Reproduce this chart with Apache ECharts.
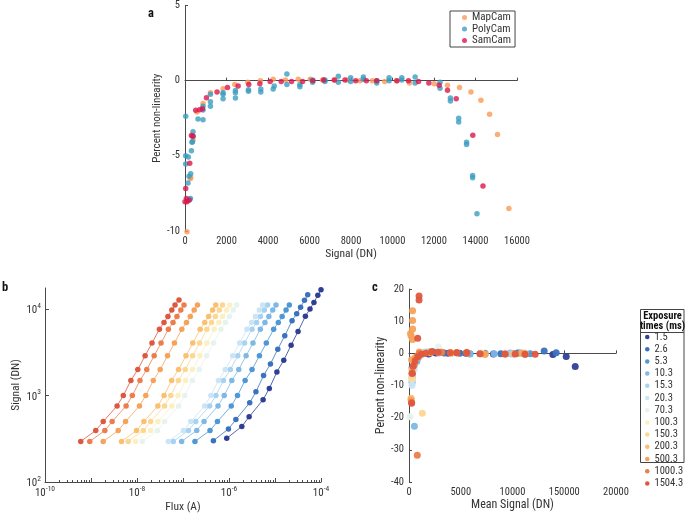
<!DOCTYPE html>
<html><head><meta charset="utf-8">
<script src="https://cdn.jsdelivr.net/npm/echarts@6/dist/echarts.min.js"></script>
<style>html,body{margin:0;padding:0;background:#fff}#c{width:685px;height:514px}</style>
</head><body><div id="c"></div>
<script>
// ---------- Panel a: percent non-linearity vs signal (DN) ----------
const mapCam = [[97,-10.05],[258,-6.5],[275,-6.44],[386,-3.95],[579,-2.08],[869,-1.52],[1226,-0.8],[1835,-0.53],[2400,-0.26],[3026,-0.1],[3638,0],[4250,0.1],[4845,0.05],[5457,0.1],[6036,0.1],[6632,0.05],[7228,0.05],[7823,0.05],[8435,0],[9031,0],[9626,-0.05],[10222,0],[10817,-0.15],[12008,-0.2],[12650,-0.31],[13230,-0.46],[13780,-0.75],[14260,-1.3],[14680,-2.23],[15060,-3.58],[15610,-8.5]];
const polyCam = [[34,-2.37],[34,-5.0],[34,-5.55],[145,-6.8],[164,-5.07],[193,-6.35],[225,-7.9],[261,-7.83],[275,-6.2],[309,-4.67],[340,-4.1],[357,-4.07],[386,-3.4],[386,-3.7],[628,-2.55],[869,-2.6],[869,-1.95],[869,-1.7],[1226,-1.7],[1226,-1.4],[1226,-0.9],[1835,-1.2],[1835,-0.9],[1835,-0.8],[2430,-1.15],[2430,-0.8],[2430,-0.65],[3058,-0.7],[3058,-0.6],[3654,-0.75],[3654,-0.55],[4250,-0.55],[4300,-0.35],[4910,0.45],[4910,-0.25],[5537,-0.4],[5537,-0.25],[6149,-0.1],[6149,0.05],[6745,-0.05],[6745,0.05],[7389,0.3],[7389,-0.1],[7985,0.2],[7985,-0.05],[8596,0.25],[8596,0.1],[9240,-0.15],[9240,0],[9835,0.2],[9835,0],[10447,0.2],[10447,0.05],[11090,0.25],[11090,-0.15],[12290,-0.1],[12290,-0.5],[12790,-1.35],[12790,-1.15],[13190,-2.75],[13190,-2.5],[13570,-4.25],[13570,-4.1],[13860,-6.45],[13860,-6.3],[14070,-8.85]];
const samCam = [[0,-8.05],[34,-7.17],[68,-7.83],[97,-8.05],[193,-7.95],[227,-5.5],[309,-3.65],[386,-3.7],[517,-1.97],[710,-1.93],[840,-1.86],[1033,-1.13],[1545,-0.75],[2047,-0.46],[2560,-0.35],[3074,-0.25],[3606,-0.2],[4105,-0.05],[4636,-0.05],[5135,-0.05],[5666,-0.05],[6165,0],[6680,0.05],[7195,0.05],[7710,0.05],[8226,0],[8741,0],[9240,0],[10206,0],[10769,0],[11252,-0.05],[11751,-0.15],[12250,-0.3],[12650,-0.64],[13070,-1.2],[13870,-3.63],[14360,-7.0]];
const cameraNames = ['MapCam','PolyCam','SamCam'];
const aXTicks = [0,2000,4000,6000,8000,10000,12000,14000,16000];
const aYTicks = [-10,-5,0,5];

// ---------- Panel b: signal (DN) vs flux (A), one curve per exposure ----------
const exposures = ['1.5','2.6','5.3','10.3','15.3','20.3','70.3','100.3','150.3','200.3','500.3','1000.3','1504.3'];
const signalLevels = [295,395,500,760,1000,1500,2000,2890,4050,5870,7010,8230,9820,11200,12800];
const signal_2_6 = [301,411,528,826,1107,1706,2323,3443,4932,7345,8872,10520,12700,14660];
const signal_1_5 = [320,440,568,897,1208,1879,2570,3837,5534,8299,10070,11970,14520,16750];
const flux_1504_3 = [5.98e-10,1.27e-9,1.84e-9,3.69e-9,5.04e-9,7.36e-9,1.04e-8,1.50e-8,2.12e-8,3.07e-8,3.86e-8,4.70e-8,5.71e-8,6.71e-8,8.18e-8];
const flux_1000_3 = [9.40e-10,2.00e-9,2.88e-9,5.79e-9,7.91e-9,1.16e-8,1.63e-8,2.36e-8,3.33e-8,4.82e-8,6.07e-8,7.38e-8,8.97e-8,1.05e-7];
const flux_500_3 = [1.84e-9,3.90e-9,5.64e-9,1.13e-8,1.55e-8,2.26e-8,3.19e-8,4.61e-8,6.52e-8,9.42e-8,1.19e-7,1.44e-7,1.75e-7,2.06e-7];
const flux_200_3 = [4.60e-9,9.77e-9,1.41e-8,2.84e-8,3.87e-8,5.66e-8,8.00e-8,1.16e-7,1.63e-7,2.36e-7,2.97e-7,3.61e-7,4.40e-7,5.16e-7];
const flux_150_3 = [6.44e-9,1.37e-8,1.98e-8,3.97e-8,5.42e-8,7.93e-8,1.12e-7,1.62e-7,2.29e-7,3.30e-7,4.16e-7,5.06e-7,6.15e-7,7.23e-7];
const flux_100_3 = [9.29e-9,1.97e-8,2.85e-8,5.73e-8,7.82e-8,1.14e-7,1.61e-7,2.33e-7,3.30e-7,4.76e-7,6.00e-7,7.29e-7,8.87e-7,1.04e-6];
const flux_70_3 = [1.30e-8,2.76e-8,3.99e-8,8.02e-8,1.09e-7,1.60e-7,2.26e-7,3.27e-7,4.61e-7,6.67e-7,8.39e-7,1.02e-6,1.24e-6,1.46e-6];
const flux_20_3 = [4.79e-8,1.02e-7,1.47e-7,2.95e-7,4.03e-7,5.89e-7,8.32e-7,1.20e-6,1.70e-6,2.45e-6,3.09e-6,3.76e-6,4.57e-6,5.37e-6];
const flux_15_3 = [6.15e-8,1.31e-7,1.89e-7,3.79e-7,5.18e-7,7.57e-7,1.07e-6,1.55e-6,2.18e-6,3.16e-6,3.97e-6,4.83e-6,5.87e-6,6.90e-6];
const flux_10_3 = [9.35e-8,1.99e-7,2.87e-7,5.77e-7,7.87e-7,1.15e-6,1.63e-6,2.35e-6,3.32e-6,4.80e-6,6.04e-6,7.35e-6,8.93e-6,1.05e-5];
const flux_5_3 = [1.82e-7,3.87e-7,5.60e-7,1.12e-6,1.53e-6,2.24e-6,3.17e-6,4.58e-6,6.47e-6,9.35e-6,1.18e-5,1.43e-5,1.74e-5,2.05e-5];
const flux_2_6 = [4.58e-7,9.72e-7,1.41e-6,2.82e-6,3.85e-6,5.64e-6,7.96e-6,1.15e-5,1.63e-5,2.35e-5,2.96e-5,3.60e-5,4.38e-5,5.14e-5];
const flux_1_5 = [8.93e-7,1.90e-6,2.74e-6,5.51e-6,7.52e-6,1.10e-5,1.55e-5,2.24e-5,3.17e-5,4.58e-5,5.77e-5,7.02e-5,8.53e-5,1.00e-4];
const bXTickLabels = [1e-10,1e-8,1e-6,1e-4];
const bYTickLabels = [1e2,1e3,1e4];

// ---------- Panel c: percent non-linearity vs mean signal (DN) ----------
const c_1_5 = [[320,-6.5],[900,-1.2],[1900,-0.2],[2600,0.1],[3800,0],[5500,0],[8160,-0.2],[10070,-0.1],[13900,-0.4],[15190,-1.0],[16060,-4.1]];
const c_2_6 = [[300,-4.5],[820,-1],[1700,0.3],[2300,0.5],[3400,0.1],[4900,0],[6870,-0.1],[8870,-0.1],[10520,0.1],[13060,0.7],[14220,0.2]];
const c_5_3 = [[300,-7.5],[760,-2],[1500,0],[2000,0.4],[2900,0.2],[4050,0],[5900,-0.1],[7350,0],[9820,-0.1],[10740,0.1],[11710,-0.1]];
const c_10_3 = [[300,-9],[520,-22.7],[760,-2.5],[1500,0.3],[2890,0.2],[4050,0],[5870,-0.2],[8230,-0.1],[9770,0.1],[11200,-0.2]];
const c_15_3 = [[295,-8.5],[500,-4],[1000,-0.5],[2000,0.5],[2890,0.3],[4050,0.1],[7010,0],[9820,-0.1],[11200,0]];
const c_20_3 = [[295,-10],[500,-5],[1000,-1],[2000,0.3],[4050,0],[7010,-0.1],[11200,0.1]];
const c_70_3 = [[100,-19.7],[295,-8],[700,-1.5],[1500,0.2],[2840,2],[4050,0.2],[7010,0],[11200,0.1]];
const c_100_3 = [[295,-7],[600,-2],[1000,0],[2000,0.4],[4050,0.1],[7010,0],[11200,-0.1]];
const c_150_3 = [[295,-7.8],[500,-3],[1000,-0.3],[1290,-18.6],[2000,0.3],[4050,0.2],[7010,-0.1],[10900,0.1]];
const c_200_3 = [[200,-14],[295,-5],[600,-1.2],[1000,0],[2000,0.3],[4050,0.1],[7350,-0.3],[10100,-0.1],[11200,-0.2]];
const c_500_3 = [[150,6.2],[200,5.5],[350,13.2],[350,10.2],[350,7.6],[350,4.3],[250,-2],[200,-14.5],[600,-1.5],[1000,0.4],[2000,0.2],[3000,0.3],[4610,0.2],[5580,0.3],[7350,-0.3],[10900,0]];
const c_1000_3 = [[250,-15.2],[300,-6],[500,-3.5],[800,-31.7],[800,-1],[1000,0],[2190,0.4],[3160,0.3],[4610,0.2],[5580,0.1],[9290,-0.2],[11220,-0.2]];
const c_1504_3 = [[250,-15.5],[300,-6.3],[400,-4],[600,-2.3],[840,4.7],[970,17.8],[970,16.6],[900,-1],[1200,-0.3],[1600,0],[2190,0.5],[2800,0.3],[3970,0.2],[4610,0.2],[5580,0.2],[6870,-0.1],[9290,-0.2],[10260,-0.2],[11220,-0.3],[12190,-0.3]];
const cXTickLabels = ['0','5000','10000','150000','20000'];

// ---------- styling ----------
const FAM = "'Roboto Condensed', 'DejaVu Sans Condensed', sans-serif";
const T = {fontFamily:FAM};
const SZ = { aTick:10.5, aNameY:11, aNameX:11.5, aLeg:11, bTick:11, bSup:7.5, bNameY:11.5, bNameX:11.5,
             cTick:10.5, cNameY:12, cNameX:12, cLeg:10.5, cHead:10.5 };
const TXT = '#333';
const AX = '#4a4a4a';
const camColors = ['#fb9a56','#3b9dc0','#d9174f'];
const expColors = ['#2f3f95','#3a72bf','#4f97d5','#7db8e7','#a7d2f1','#cbe5f6','#e6f3ee','#fcefc2','#fcd792','#fabf70','#f5a35a','#ec7d4c','#df573e'];

const fluxByExp = [flux_1_5,flux_2_6,flux_5_3,flux_10_3,flux_15_3,flux_20_3,flux_70_3,flux_100_3,flux_150_3,flux_200_3,flux_500_3,flux_1000_3,flux_1504_3];
const sigByExp = exposures.map((e,i)=> i===0 ? signal_1_5 : (i===1 ? signal_2_6 : signalLevels));
const cByExp = [c_1_5,c_2_6,c_5_3,c_10_3,c_15_3,c_20_3,c_70_3,c_100_3,c_150_3,c_200_3,c_500_3,c_1000_3,c_1504_3];

const lg = Math.log10;
const bXMajor = [-10,-9,-8,-7,-6,-5,-4];
const bXMinor = [];
for (let k=-10;k<-4;k++){ for(let m=2;m<=9;m++){ bXMinor.push(k+lg(m)); } }

const supFmt = v => '{b|10}{s|' + Math.round(v) + '}';
const supRich = { b:Object.assign({fontSize:SZ.bTick, lineHeight:14, verticalAlign:'bottom', color:TXT}, T),
                  s:Object.assign({fontSize:SZ.bSup, lineHeight:8, verticalAlign:'top', color:TXT}, T) };
const plainFmt = v => String(v);

function lab(size, extra){ return Object.assign({color:TXT, fontSize:size, margin:5}, T, extra||{}); }
function nts(size){ return Object.assign({color:TXT, fontSize:size}, T); }
const axisBase = { axisLine:{show:true, lineStyle:{color:AX, width:1}}, splitLine:{show:false}, nameLocation:'middle' };
function tick(len, vals){ const t = {show:true, inside:true, length:len, lineStyle:{color:AX}}; if (vals) t.customValues = vals; return t; }

const series = [];
[mapCam, polyCam, samCam].forEach((d,i)=>{
  series.push({ name:cameraNames[i], type:'scatter', xAxisIndex:0, yAxisIndex:0, data:d, symbol:'circle', symbolSize:5.5, clip:false,
    itemStyle:{color:camColors[i]}, z:3+i });
});
exposures.forEach((e,i)=>{
  const f = fluxByExp[i], s = sigByExp[i];
  series.push({ name:e, type:'line', xAxisIndex:1, yAxisIndex:1,
    data: f.map((v,j)=>[lg(v), lg(s[j])]), symbol:'circle', symbolSize:5.5, showSymbol:true,
    lineStyle:{width:0.8, color:expColors[i]}, itemStyle:{color:expColors[i]}, emphasis:{disabled:true}, clip:false });
});
exposures.forEach((e,i)=>{
  series.push({ name:e, type:'scatter', xAxisIndex:3, yAxisIndex:2, data:cByExp[i], symbol:'circle', symbolSize:7,
    itemStyle:{color:expColors[i], opacity:0.95}, clip:false });
});

const option = {
  animation:false,
  textStyle:T,
  grid:[
    {left:185, top:5, width:332, height:226},
    {left:45, top:288, width:276, height:194},
    {left:409, top:289, width:207, height:193}
  ],
  xAxis:[
    Object.assign({}, axisBase, {gridIndex:0, type:'value', min:0, max:16000, interval:2000, name:'Signal (DN)', nameGap:16, nameTextStyle:nts(SZ.aNameX),
      axisTick:tick(3, aXTicks), axisLabel:lab(SZ.aTick, {customValues:aXTicks, formatter:plainFmt})}),
    Object.assign({}, axisBase, {gridIndex:1, type:'value', min:-10, max:-4, name:'Flux (A)', nameGap:19, nameTextStyle:nts(SZ.bNameX),
      axisTick:tick(4, bXMajor), axisLabel:lab(SZ.bTick, {customValues:bXTickLabels.map(lg), formatter:supFmt, rich:supRich, margin:3})}),
    {gridIndex:1, type:'value', min:-10, max:-4, position:'bottom', axisLine:{show:false}, splitLine:{show:false}, axisLabel:{show:false},
      axisTick:tick(2, bXMinor)},
    Object.assign({}, axisBase, {gridIndex:2, type:'value', min:0, max:20000, interval:5000, name:'Mean Signal (DN)', nameGap:16, nameTextStyle:nts(SZ.cNameX),
      axisTick:tick(3), axisLabel:lab(SZ.cTick, {formatter:(v)=>cXTickLabels[Math.round(v/5000)]})})
  ],
  yAxis:[
    Object.assign({}, axisBase, {gridIndex:0, type:'value', min:-10, max:5, interval:5, name:'Percent non-linearity', nameGap:18, nameTextStyle:nts(SZ.aNameY),
      axisTick:tick(3, aYTicks), axisLabel:lab(SZ.aTick, {customValues:aYTicks, formatter:plainFmt})}),
    Object.assign({}, axisBase, {gridIndex:1, type:'value', min:2, max:lg(17600), name:'Signal (DN)', nameGap:19, nameTextStyle:nts(SZ.bNameY),
      axisTick:tick(4, bYTickLabels.map(lg)), axisLabel:lab(SZ.bTick, {customValues:bYTickLabels.map(lg), formatter:supFmt, rich:supRich, margin:4})}),
    Object.assign({}, axisBase, {gridIndex:2, type:'value', min:-40, max:20, interval:10, name:'Percent non-linearity', nameGap:17, nameTextStyle:nts(SZ.cNameY),
      axisTick:tick(3), axisLabel:lab(SZ.cTick, {formatter:plainFmt})})
  ],
  legend:[
    {data:cameraNames, orient:'vertical', left:450, top:11, icon:'circle', itemWidth:5, itemHeight:5, itemGap:0.5, itemTextGap:9,
      padding:[1,4,1,12], borderColor:'#444', borderWidth:1, selectedMode:false,
      textStyle:Object.assign({fontSize:SZ.aLeg, lineHeight:9.5, color:TXT}, T)},
    {data:exposures, orient:'vertical', left:645, top:331.5, icon:'circle', itemWidth:4.5, itemHeight:4.5, itemGap:1.2, itemTextGap:8.5,
      padding:0, selectedMode:false,
      textStyle:Object.assign({fontSize:SZ.cLeg, lineHeight:9, color:TXT}, T)}
  ],
  graphic:[
    {type:'text', left:148, top:7, style:Object.assign({text:'a', fontSize:12.5, fontWeight:'bold', fill:'#111'}, T)},
    {type:'text', left:2, top:281, style:Object.assign({text:'b', fontSize:12.5, fontWeight:'bold', fill:'#111'}, T)},
    {type:'text', left:372, top:281, style:Object.assign({text:'c', fontSize:12.5, fontWeight:'bold', fill:'#111'}, T)},
    {type:'rect', shape:{x:640.5, y:309.5, width:43.5, height:153}, style:{fill:'none', stroke:'#444', lineWidth:1}},
    {type:'line', shape:{x1:640.5, y1:332.5, x2:684, y2:332.5}, style:{stroke:'#444', lineWidth:1}},
    {type:'text', x:662.5, y:311.5, style:Object.assign({text:'Exposure\ntimes (ms)', fontSize:SZ.cHead, fontWeight:'bold', fill:'#111', align:'center', lineHeight:10}, T)}
  ],
  series: series
};
const chart = echarts.init(document.getElementById('c'), null, {renderer:'canvas'});
chart.setOption(option);
</script></body></html>
